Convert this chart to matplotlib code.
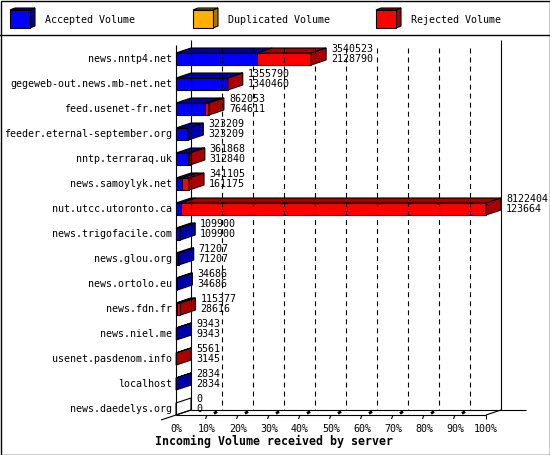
import matplotlib
matplotlib.use("Agg")
import matplotlib.pyplot as plt
from matplotlib.patches import Polygon, Rectangle
import numpy as np

# ---------------- data ----------------
servers = ["news.nntp4.net", "gegeweb-out.news.mb-net.net", "feed.usenet-fr.net",
           "feeder.eternal-september.org", "nntp.terraraq.uk", "news.samoylyk.net",
           "nut.utcc.utoronto.ca", "news.trigofacile.com", "news.glou.org",
           "news.ortolo.eu", "news.fdn.fr", "news.niel.me", "usenet.pasdenom.info",
           "localhost", "news.daedelys.org"]
total_volume = [3540523, 1355790, 862053, 323209, 361868, 341105, 8122404, 109900,
                71207, 34686, 115377, 9343, 5561, 2834, 0]
accepted_volume = [2128790, 1340460, 764611, 323209, 312840, 161175, 123664, 109900,
                   71207, 34686, 28616, 9343, 3145, 2834, 0]
duplicated_volume = [0] * 15
series_names = ["Accepted Volume", "Duplicated Volume", "Rejected Volume"]
tick_percents = [0, 10, 20, 30, 40, 50, 60, 70, 80, 90, 100]
x_title = "Incoming Volume received by server"

# ---------------- style ----------------
W, H = 550, 455
FRONT = ["#0000FF", "#FFB000", "#FF0000"]
DARK = ["#0000AA", "#AA7500", "#AA0000"]
FONT = "DejaVu Sans Mono"
FS = 7.2
LW = 0.8
plt.rcParams["lines.scale_dashes"] = False

fig = plt.figure(figsize=(W / 100, H / 100), dpi=100)
fig.patch.set_facecolor("white")

# overlay in pixel coords for frame / legend / title
ov = fig.add_axes([0, 0, 1, 1])
ov.set_xlim(0, W)
ov.set_ylim(H, 0)
ov.axis("off")
ov.add_patch(Rectangle((0.5, 0.5), W - 1, H - 1, fill=False, ec="black", lw=1.0))
ov.plot([0, W], [34.5, 34.5], color="black", lw=1.0)

# legend cubes
for k, name in enumerate(series_names):
    x0 = 10 + 183 * k
    y0, fw, fh, d1, d2 = 10, 20, 18, 5, 2
    ov.add_patch(Polygon([(x0, y0), (x0 + d1, y0 - d2), (x0 + fw + d1, y0 - d2), (x0 + fw, y0)],
                         closed=True, fc=DARK[k], ec="black", lw=LW))
    ov.add_patch(Polygon([(x0 + fw, y0), (x0 + fw + d1, y0 - d2), (x0 + fw + d1, y0 + fh - d2),
                          (x0 + fw, y0 + fh)], closed=True, fc=DARK[k], ec="black", lw=LW))
    ov.add_patch(Rectangle((x0, y0), fw, fh, fc=FRONT[k], ec="black", lw=LW))
    ov.text(x0 + 35, 20, name, ha="left", va="center", family=FONT, fontsize=FS)

ov.text(274, 441, x_title, ha="center", va="center", family=FONT, fontsize=8.4,
        fontweight="bold")

# main axes: front plane, x in percent of max, y category index
n = len(servers)
ax = fig.add_axes([176 / W, (H - 415) / H, 310 / W, 370 / H])
ax.set_xlim(0, 100)
ax.set_ylim((415 - 59) / 25, (45 - 59) / 25)
ax.axis("off")

inv = ax.transData.inverted()
def px2data(dx, dy):
    o = ax.transData.transform((0, 0))
    a = inv.transform(o + np.array([dx, dy]))
    b = inv.transform(o)
    return a - b

DX, DY = px2data(15, 5)          # depth offset
_, HH = px2data(0, -6)           # half bar height (positive in data)
EXT, _ = px2data(25, 0)
_, GTOP = px2data(0, -8)
TX1, TY1 = px2data(-1.5, -4)
MX0, MY0 = px2data(7, 1.5)
MX1, MY1 = px2data(10, 3.5)

y_top, y_floor = ax.get_ylim()[1], ax.get_ylim()[0]

def line(xs, ys, **kw):
    kw.setdefault("color", "black")
    kw.setdefault("lw", LW)
    ax.plot(xs, ys, clip_on=False, solid_capstyle="butt", **kw)

# back wall, gridlines
line([DX, DX], [y_top + DY, y_floor + DY])
line([100 + DX, 100 + DX], [y_top + DY, y_floor + DY])
for p in tick_percents[1:-1]:
    line([p + DX, p + DX], [y_top + DY + GTOP, y_floor + DY], ls=(0, (3.6, 2.9)))
# floor
line([DX, 100 + DX + EXT], [y_floor + DY, y_floor + DY])
line([-DX, DX], [y_floor - DY, y_floor + DY])
line([0, 100], [y_floor, y_floor])
line([100, 100 + DX], [y_floor, y_floor + DY])
# front axis
line([0, 0], [y_top, y_floor])

# ticks & tick labels
for p in tick_percents:
    if 0 < p < 100:
        line([p, p + TX1], [y_floor, y_floor + abs(TY1)])
        line([p + MX0, p + MX1], [y_floor + MY0, y_floor + MY1], lw=2.0)
    elif p == 100:
        line([p, p], [y_floor, y_floor + abs(TY1)])
    ax.annotate(f"{p}%", xy=(p, y_floor), xytext=(0, -14), textcoords="offset pixels",
                ha="center", va="center", family=FONT, fontsize=FS, annotation_clip=False)

vmax = max(total_volume)
for i in range(n):
    tot = total_volume[i]
    acc = accepted_volume[i]
    dup = duplicated_volume[i]
    parts = [acc, dup, tot - acc - dup]
    yt, yb = i - HH, i + HH
    x0 = 0.0
    last = 0
    for k, v in enumerate(parts):
        w = v / vmax * 100
        if w <= 0:
            continue
        ax.add_patch(Rectangle((x0, yt), w, yb - yt, fc=FRONT[k], ec="black", lw=LW,
                               clip_on=False))
        ax.add_patch(Polygon([(x0, yt), (x0 + w, yt), (x0 + w + DX, yt + DY), (x0 + DX, yt + DY)],
                             closed=True, fc=DARK[k], ec="black", lw=LW, clip_on=False))
        x0 += w
        last = k
    side_fc = DARK[last] if tot > 0 else "white"
    ax.add_patch(Polygon([(x0, yt), (x0 + DX, yt + DY), (x0 + DX, yb + DY), (x0, yb)],
                         closed=True, fc=side_fc, ec="black", lw=LW, clip_on=False))
    ax.annotate(str(tot), xy=(x0 + DX, i), xytext=(5, 10), textcoords="offset pixels",
                ha="left", va="center", family=FONT, fontsize=FS, annotation_clip=False)
    ax.annotate(str(acc), xy=(x0 + DX, i), xytext=(5, 0), textcoords="offset pixels",
                ha="left", va="center", family=FONT, fontsize=FS, annotation_clip=False)
    ax.annotate(servers[i], xy=(0, i), xytext=(-4, 0), textcoords="offset pixels",
                ha="right", va="center", family=FONT, fontsize=FS, annotation_clip=False)

fig.savefig("out.png", dpi=100)
